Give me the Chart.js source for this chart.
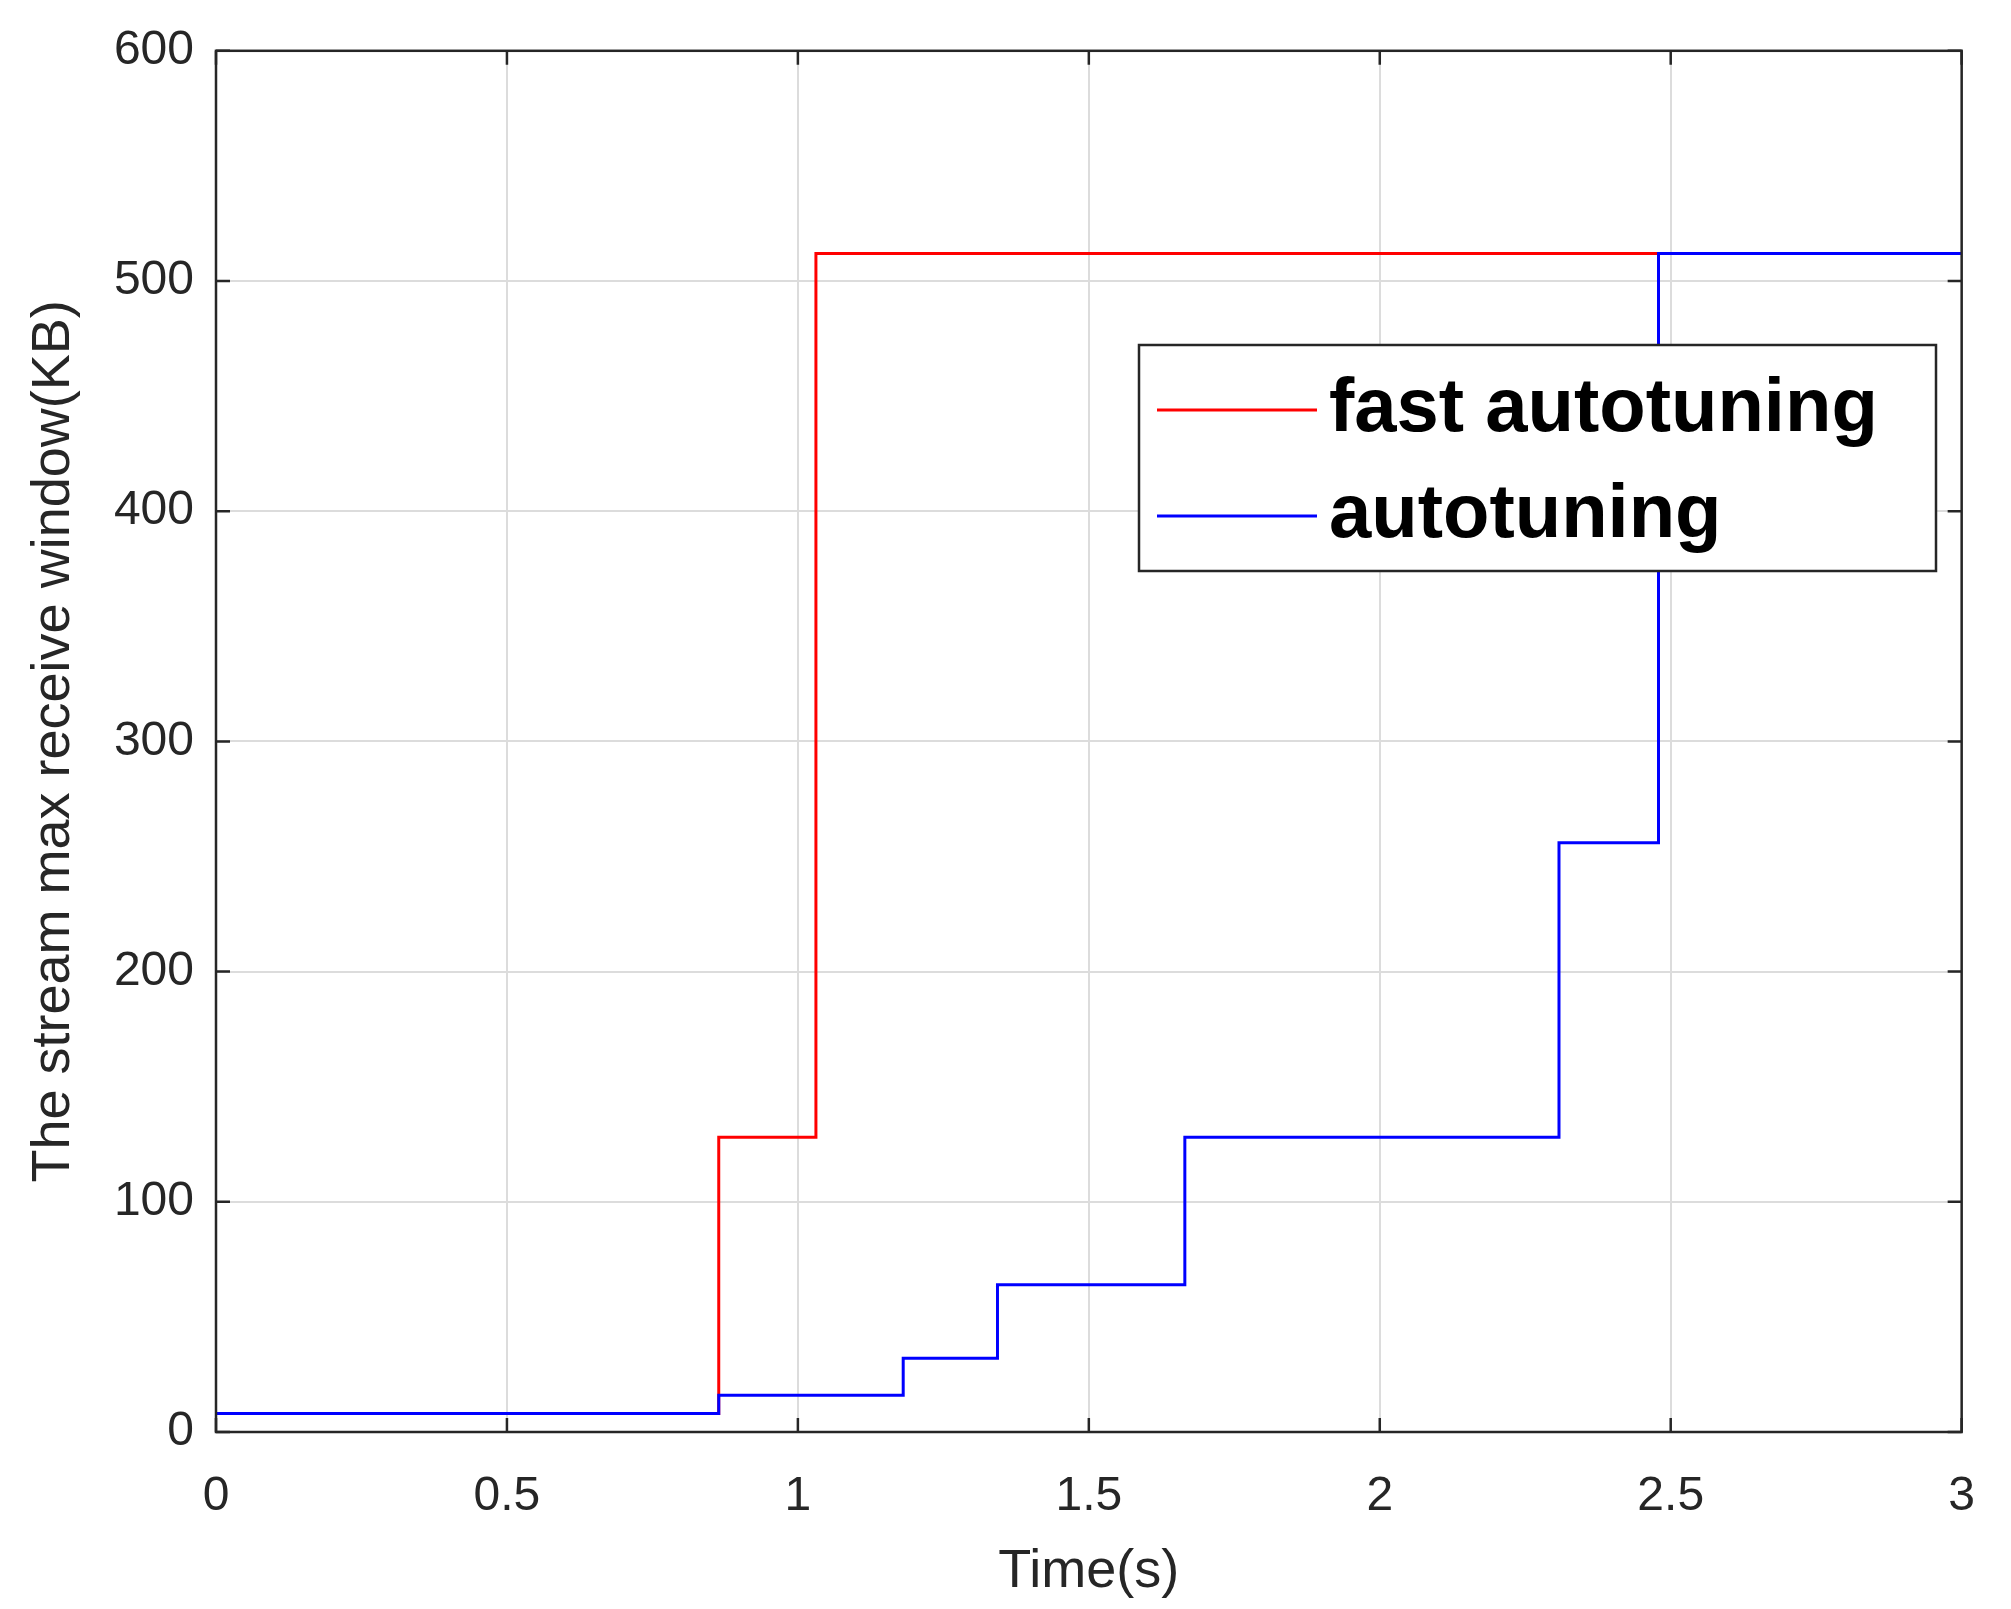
<!DOCTYPE html>
<html><head><meta charset="utf-8">
<script src="https://cdn.jsdelivr.net/npm/chart.js@4/dist/chart.umd.min.js"></script>
<style>body{margin:0;background:#fff}</style>
</head><body>
<canvas id="c" width="2011" height="1609"></canvas>
<script>
// step change times (s) and window sizes (KB)
const fastTimes = [0, 0.864, 1.031, 3];
const fastValues = [8, 128, 512, 512];
const autoTimes = [0, 0.864, 1.181, 1.343, 1.665, 2.308, 2.479, 3];
const autoValues = [8, 16, 32, 64, 128, 256, 512, 512];
const xTicks = [0, 0.5, 1, 1.5, 2, 2.5, 3];
const yTicks = [0, 100, 200, 300, 400, 500, 600];
const seriesNames = ['fast autotuning', 'autotuning'];
const seriesColors = ['#ff0000', '#0000ff'];

const toPts = (xs, ys) => xs.map((x, i) => ({ x, y: ys[i] }));
const axisColor = '#262626';
const font = '"Liberation Sans", Arial, sans-serif';

// inward ticks + box, and the boxed legend
const framePlugin = {
    id: 'frame',
    afterDraw(chart) {
        const { ctx, chartArea: a, scales } = chart;
        ctx.save();
        ctx.strokeStyle = axisColor;
        ctx.lineWidth = 2.5;
        ctx.strokeRect(a.left, a.top, a.right - a.left, a.bottom - a.top);
        const len = 14;
        ctx.beginPath();
        xTicks.forEach(t => {
            const px = scales.x.getPixelForValue(t);
            ctx.moveTo(px, a.bottom); ctx.lineTo(px, a.bottom - len);
            ctx.moveTo(px, a.top); ctx.lineTo(px, a.top + len);
        });
        yTicks.forEach(t => {
            const py = scales.y.getPixelForValue(t);
            ctx.moveTo(a.left, py); ctx.lineTo(a.left + len, py);
            ctx.moveTo(a.right, py); ctx.lineTo(a.right - len, py);
        });
        ctx.stroke();

        // legend
        const lx = 1139, ly = 345, lw = 797, lh = 226;
        ctx.fillStyle = '#fff';
        ctx.fillRect(lx, ly, lw, lh);
        ctx.lineWidth = 2.5;
        ctx.strokeStyle = axisColor;
        ctx.strokeRect(lx, ly, lw, lh);
        ctx.font = 'bold 76px ' + font;
        ctx.textBaseline = 'middle';
        seriesNames.forEach((name, i) => {
            const y = ly + 65 + i * 106;
            ctx.strokeStyle = seriesColors[i];
            ctx.lineWidth = 3;
            ctx.beginPath(); ctx.moveTo(lx + 18, y); ctx.lineTo(lx + 178, y); ctx.stroke();
            ctx.fillStyle = '#000';
            ctx.fillText(name, lx + 190, y);
        });
        ctx.restore();
    }
};

new Chart(document.getElementById('c'), {
    type: 'line',
    data: {
        datasets: [
            { label: seriesNames[0], data: toPts(fastTimes, fastValues), borderColor: seriesColors[0], borderWidth: 3, stepped: 'before', pointRadius: 0, fill: false, order: 2 },
            { label: seriesNames[1], data: toPts(autoTimes, autoValues), borderColor: seriesColors[1], borderWidth: 3, stepped: 'before', pointRadius: 0, fill: false, order: 1 }
        ]
    },
    options: {
        responsive: false,
        animation: false,
        devicePixelRatio: 1,
        layout: { padding: { left: 0, right: 30, top: 39, bottom: 0 } },
        plugins: { legend: { display: false }, tooltip: { enabled: false } },
        scales: {
            x: {
                type: 'linear', min: 0, max: 3,
                afterBuildTicks: s => { s.ticks = xTicks.map(v => ({ value: v })); },
                afterFit: s => { s.height = 177; },
                grid: { color: '#dcdcdc', lineWidth: 2, drawTicks: false },
                border: { display: false },
                ticks: { color: axisColor, font: { family: font, size: 48 }, padding: 36, callback: v => String(v) },
                title: { display: true, text: 'Time(s)', color: axisColor, font: { family: font, size: 54 }, padding: { top: 10 } }
            },
            y: {
                min: 0, max: 600,
                afterBuildTicks: s => { s.ticks = yTicks.map(v => ({ value: v })); },
                afterFit: s => { s.width = 216; },
                grid: { color: '#dcdcdc', lineWidth: 2, drawTicks: false },
                border: { display: false },
                ticks: { color: axisColor, font: { family: font, size: 48 }, padding: 22 },
                title: { display: true, text: 'The stream max receive window(KB)', color: axisColor, font: { family: font, size: 54 }, padding: { bottom: 0, top: 22 } }
            }
        }
    },
    plugins: [framePlugin]
});
</script>
</body></html>
